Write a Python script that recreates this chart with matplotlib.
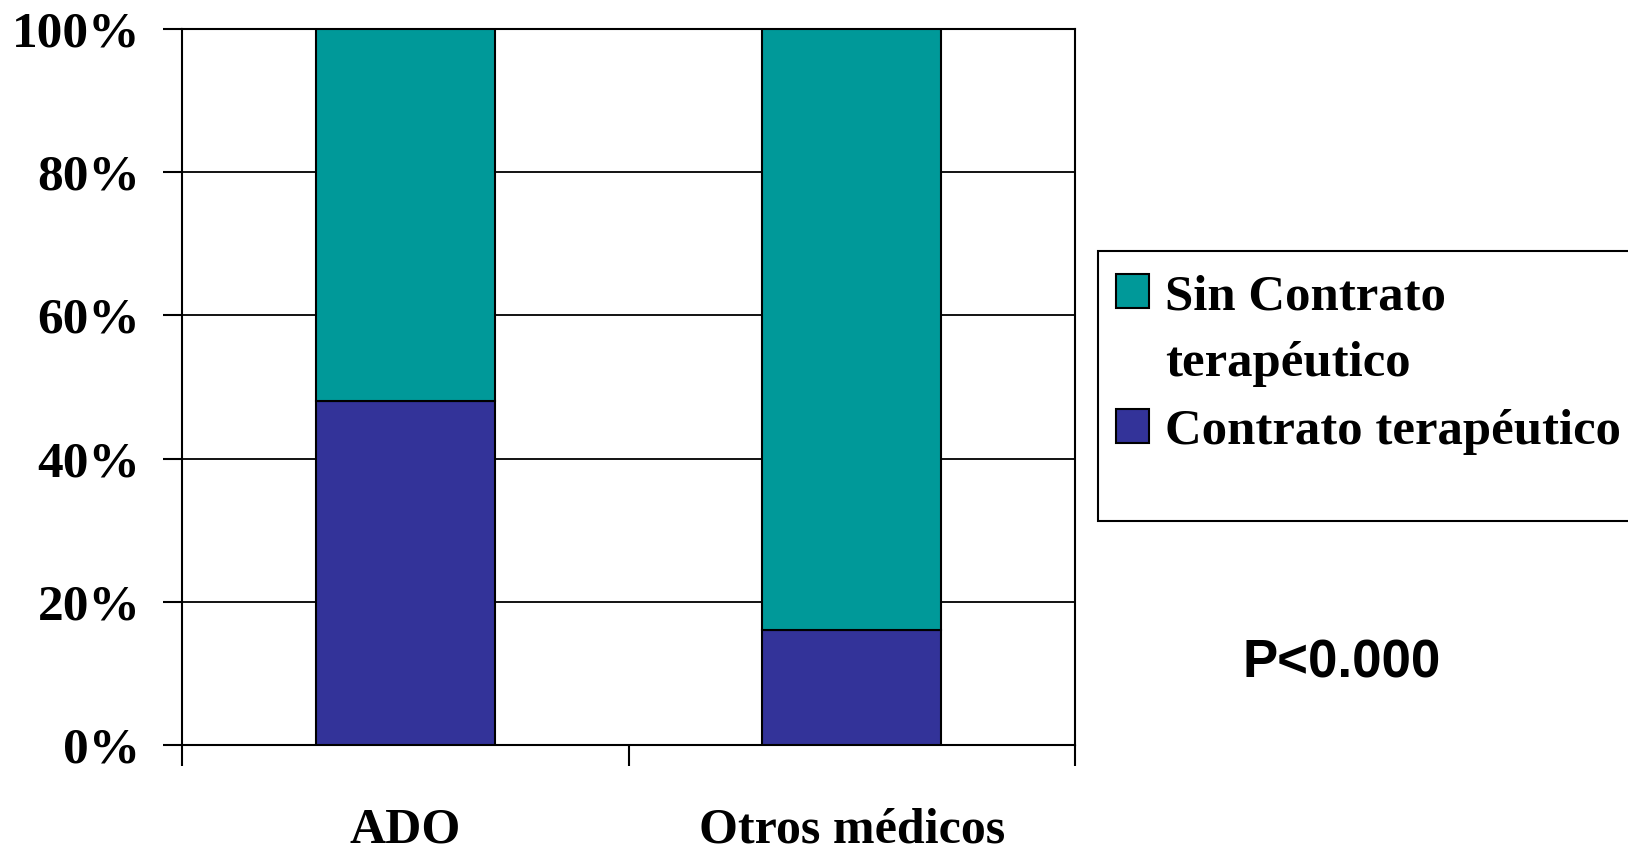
import matplotlib.pyplot as plt
from matplotlib.patches import Rectangle, Patch

categories = ['ADO', 'Otros médicos']
contrato = [48, 16]
sin_contrato = [52, 84]
y_ticks = [0, 20, 40, 60, 80, 100]
y_tick_labels = ['0%', '20%', '40%', '60%', '80%', '100%']
legend_labels = ['Sin Contrato', 'terapéutico', 'Contrato terapéutico']

teal = '#009999'
purple = '#333399'
serif = 'Liberation Serif'

fig = plt.figure(figsize=(16.28, 8.51), dpi=100)
W, H = 1628, 851
ax = fig.add_axes([182 / W, 1 - 745 / H, (1075 - 182) / W, (745 - 29) / H])

x = range(len(categories))
ax.bar(x, contrato, width=0.4, color=purple, edgecolor='black', linewidth=1.5,
       label='Contrato terapéutico', zorder=3)
ax.bar(x, sin_contrato, width=0.4, bottom=contrato, color=teal, edgecolor='black',
       linewidth=1.5, label='Sin Contrato terapéutico', zorder=3)

ax.set_xlim(-0.5, 1.5)
ax.set_ylim(0, 100)
ax.set_yticks(y_ticks)
ax.set_yticklabels(y_tick_labels, fontfamily=serif, fontweight='bold', fontsize=37)
ax.set_xticks(list(x))
ax.set_xticklabels(categories, fontfamily=serif, fontweight='bold', fontsize=36)
ax.set_xticks([-0.5, 0.5, 1.5], minor=True)
ax.tick_params(axis='x', which='major', length=0, pad=45)
ax.tick_params(axis='x', which='minor', length=15, width=1.5, direction='out')
ax.tick_params(axis='y', length=14, width=1.5, direction='out', pad=16)
ax.yaxis.grid(True, color='black', linewidth=1.3, zorder=0)
for s in ax.spines.values():
    s.set_linewidth(1.5)

# legend box runs off the right edge of the figure
fig.patches.append(Rectangle((1098 / W, 1 - 521 / H), (1660 - 1098) / W, 270 / H,
                             transform=fig.transFigure, facecolor='white',
                             edgecolor='black', linewidth=1.5, clip_on=False))
# the wrapped first label gets a blank handle on its second line
handles = [Patch(facecolor=teal, edgecolor='black', linewidth=1.5),
           Patch(facecolor='none', edgecolor='none'),
           Patch(facecolor=purple, edgecolor='black', linewidth=1.5)]
fig.legend(handles, legend_labels,
           loc='upper left', bbox_to_anchor=(1116 / W, 1 - 274 / H), frameon=False,
           prop={'family': serif, 'weight': 'bold', 'size': 36.5},
           handlelength=0.66, handleheight=0.66, handletextpad=0.3,
           labelspacing=0.42, borderpad=0, borderaxespad=0)

fig.text(1342 / W, 1 - 663 / H, 'P<0.000', fontfamily='Liberation Sans',
         fontweight='bold', fontsize=38, ha='center', va='center')

fig.savefig('out.png', dpi=100)
